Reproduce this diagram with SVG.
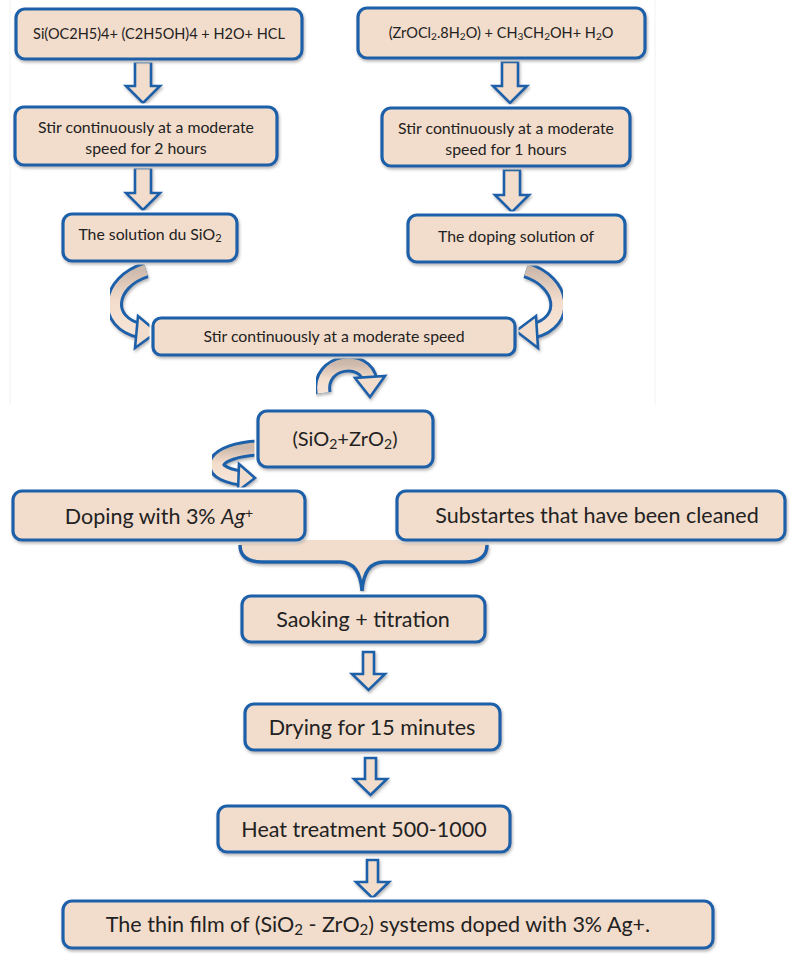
<svg xmlns="http://www.w3.org/2000/svg" width="792" height="954" viewBox="0 0 792 954">
<defs>
<filter id="sh" x="-10%" y="-20%" width="120%" height="150%">
<feDropShadow dx="1" dy="2" stdDeviation="1.8" flood-color="#7a7a7a" flood-opacity="0.55"/>
</filter>
<linearGradient id="cg" x1="0" y1="0" x2="0" y2="1">
<stop offset="0" stop-color="#cdb9ac"/>
<stop offset="0.5" stop-color="#f3dccb"/>
<stop offset="1" stop-color="#f6e4d6"/>
</linearGradient>
</defs>
<style>
.box{fill:#f2dccb;stroke:#1d61aa;stroke-width:3.2;filter:url(#sh)}
.halo{fill:none;stroke:#ffffff;stroke-width:7}
.t{font-family:Lato,"Open Sans","Liberation Sans",sans-serif;fill:#222222;text-anchor:middle}
.xs{font-size:14.5px}
.s{font-size:15.8px}
.m{font-size:20px}
.l{font-size:21.5px}
.sub{font-size:70%;baseline-shift:-18%}
.sup{font-size:65%;baseline-shift:40%}
.arr{fill:#f2dccb;stroke:#1d61aa;stroke-width:2.6;stroke-linejoin:miter;filter:url(#sh)}
.cout{fill:none;stroke:#1d61aa;stroke-width:17;stroke-linecap:butt}
.cin{fill:none;stroke:url(#cg);stroke-width:11;stroke-linecap:butt}
.head{fill:#f2dccb;stroke:#1d61aa;stroke-width:2.6;stroke-linejoin:miter}
.frame{fill:none;stroke:#f2f2f2;stroke-width:1}
</style>
<rect width="792" height="954" fill="#ffffff"/>
<path class="frame" d="M10,0 V405 M655,0 V405"/>

<g id="connectors">
<path class="arr" d="M135,62 H151 V86 H160 L143,103 L126,86 H135 Z"/>
<path class="arr" d="M135,168 H151 V193 H160 L143,210 L126,193 H135 Z"/>
<path class="arr" d="M502,62 H518 V86 H527 L510,103 L493,86 H502 Z"/>
<path class="arr" d="M504,170 H520 V195 H529 L512,212 L495,195 H504 Z"/>
<g filter="url(#sh)">
<path class="cout" d="M146,270 C108,282 102,322 141,331"/>
<path class="cin" d="M146,270 C108,282 102,322 141,331"/>
<path class="head" d="M138,316 L157,332 L135,348 Z"/>
</g>
<g filter="url(#sh)">
<path class="cout" d="M526,270 C564,282 570,322 533,331"/>
<path class="cin" d="M526,270 C564,282 570,322 533,331"/>
<path class="head" d="M536,316 L516,331 L538,348 Z"/>
</g>
<g filter="url(#sh)">
<path class="cout" d="M323,393 C318,360 366,354 370,381"/>
<path class="cin" d="M323,393 C318,360 366,354 370,381"/>
<path class="head" d="M355,378 L370,397 L385,376 Z"/>
</g>
<g filter="url(#sh)">
<path class="cout" d="M258,448 C214,450 200,472 241,478"/>
<path class="cin" d="M258,448 C214,450 200,472 241,478"/>
<path class="head" d="M239,464 L255,478 L238,491 Z"/>
</g>
<g filter="url(#sh)">
<path d="M240,540 V545 Q240,562 262,562 H340 Q360,562 362,591 Q364,562 384,562 H465 Q487,562 487,545 V540 Z" fill="#f2dccb" stroke="none"/>
<path d="M240,545 Q240,562 262,562 H340 Q360,562 362,591 Q364,562 384,562 H465 Q487,562 487,545" fill="none" stroke="#1d61aa" stroke-width="3.5"/>
</g>
<path class="arr" d="M363,652 H374 V674 H385 L368.5,690 L352,674 H363 Z"/>
<path class="arr" d="M365,758 H376 V779 H387 L370.5,795 L354,779 H365 Z"/>
<path class="arr" d="M367,860 H378 V882 H389 L372.5,898 L356,882 H367 Z"/>
</g>

<g id="n1"><rect class="halo" x="16" y="9" width="286" height="50" rx="9"/><rect class="box" x="16" y="9" width="286" height="50" rx="9"/>
<text class="t xs" x="159" y="39">Si(OC2H5)4+ (C2H5OH)4 + H2O+ HCL</text></g>
<g id="n2"><rect class="halo" x="358" y="8" width="287" height="50" rx="9"/><rect class="box" x="358" y="8" width="287" height="50" rx="9"/>
<text class="t xs" x="501" y="38">(ZrOCl<tspan class="sub">2</tspan>.8H<tspan class="sub">2</tspan>O) + CH<tspan class="sub">3</tspan>CH<tspan class="sub">2</tspan>OH+ H<tspan class="sub">2</tspan>O</text></g>
<g id="n3"><rect class="halo" x="15" y="107" width="262" height="58" rx="9"/><rect class="box" x="15" y="107" width="262" height="58" rx="9"/>
<text class="t s" x="146" y="133">Stir continuously at a moderate</text><text class="t s" x="146" y="154">speed for 2 hours</text></g>
<g id="n4"><rect class="halo" x="63" y="214" width="174" height="47" rx="9"/><rect class="box" x="63" y="214" width="174" height="47" rx="9"/>
<text class="t s" x="150" y="240">The solution du SiO<tspan class="sub">2</tspan></text></g>
<g id="n5"><rect class="halo" x="382" y="108" width="248" height="58" rx="9"/><rect class="box" x="382" y="108" width="248" height="58" rx="9"/>
<text class="t s" x="506" y="134">Stir continuously at a moderate</text><text class="t s" x="506" y="155">speed for 1 hours</text></g>
<g id="n6"><rect class="halo" x="408" y="215" width="217" height="47" rx="9"/><rect class="box" x="408" y="215" width="217" height="47" rx="9"/>
<text class="t s" x="516" y="242">The doping solution of</text></g>
<g id="n7"><rect class="halo" x="153" y="318" width="362" height="37" rx="8"/><rect class="box" x="153" y="318" width="362" height="37" rx="8"/>
<text class="t s" x="334" y="342">Stir continuously at a moderate speed</text></g>
<g id="n8"><rect class="halo" x="258" y="411" width="175" height="56" rx="9"/><rect class="box" x="258" y="411" width="175" height="56" rx="9"/>
<text class="t m" x="345" y="446">(SiO<tspan class="sub">2</tspan>+ZrO<tspan class="sub">2</tspan>)</text></g>
<g id="n9"><rect class="halo" x="13" y="491" width="292" height="49" rx="9"/><rect class="box" x="13" y="491" width="292" height="49" rx="9"/>
<text class="t l" x="159" y="524">Doping with 3% <tspan font-style="italic">Ag</tspan><tspan class="sup">+</tspan></text></g>
<g id="n10"><rect class="halo" x="397" y="491" width="388" height="49" rx="9"/><rect class="box" x="397" y="491" width="388" height="49" rx="9"/>
<text class="t l" x="597" y="523">Substartes that have been cleaned</text></g>
<g id="n11"><rect class="halo" x="242" y="596" width="243" height="46" rx="9"/><rect class="box" x="242" y="596" width="243" height="46" rx="9"/>
<text class="t l" x="363" y="627">Saoking + titration</text></g>
<g id="n12"><rect class="halo" x="245" y="704" width="255" height="46" rx="9"/><rect class="box" x="245" y="704" width="255" height="46" rx="9"/>
<text class="t l" x="372" y="735">Drying for 15 minutes</text></g>
<g id="n13"><rect class="halo" x="218" y="806" width="292" height="46" rx="9"/><rect class="box" x="218" y="806" width="292" height="46" rx="9"/>
<text class="t l" x="364" y="837">Heat treatment 500-1000</text></g>
<g id="n14"><rect class="halo" x="63" y="901" width="650" height="47" rx="9"/><rect class="box" x="63" y="901" width="650" height="47" rx="9"/>
<text class="t l" x="378" y="932">The thin film of (SiO<tspan class="sub">2</tspan> - ZrO<tspan class="sub">2</tspan>) systems doped with 3% Ag+.</text></g>
</svg>
